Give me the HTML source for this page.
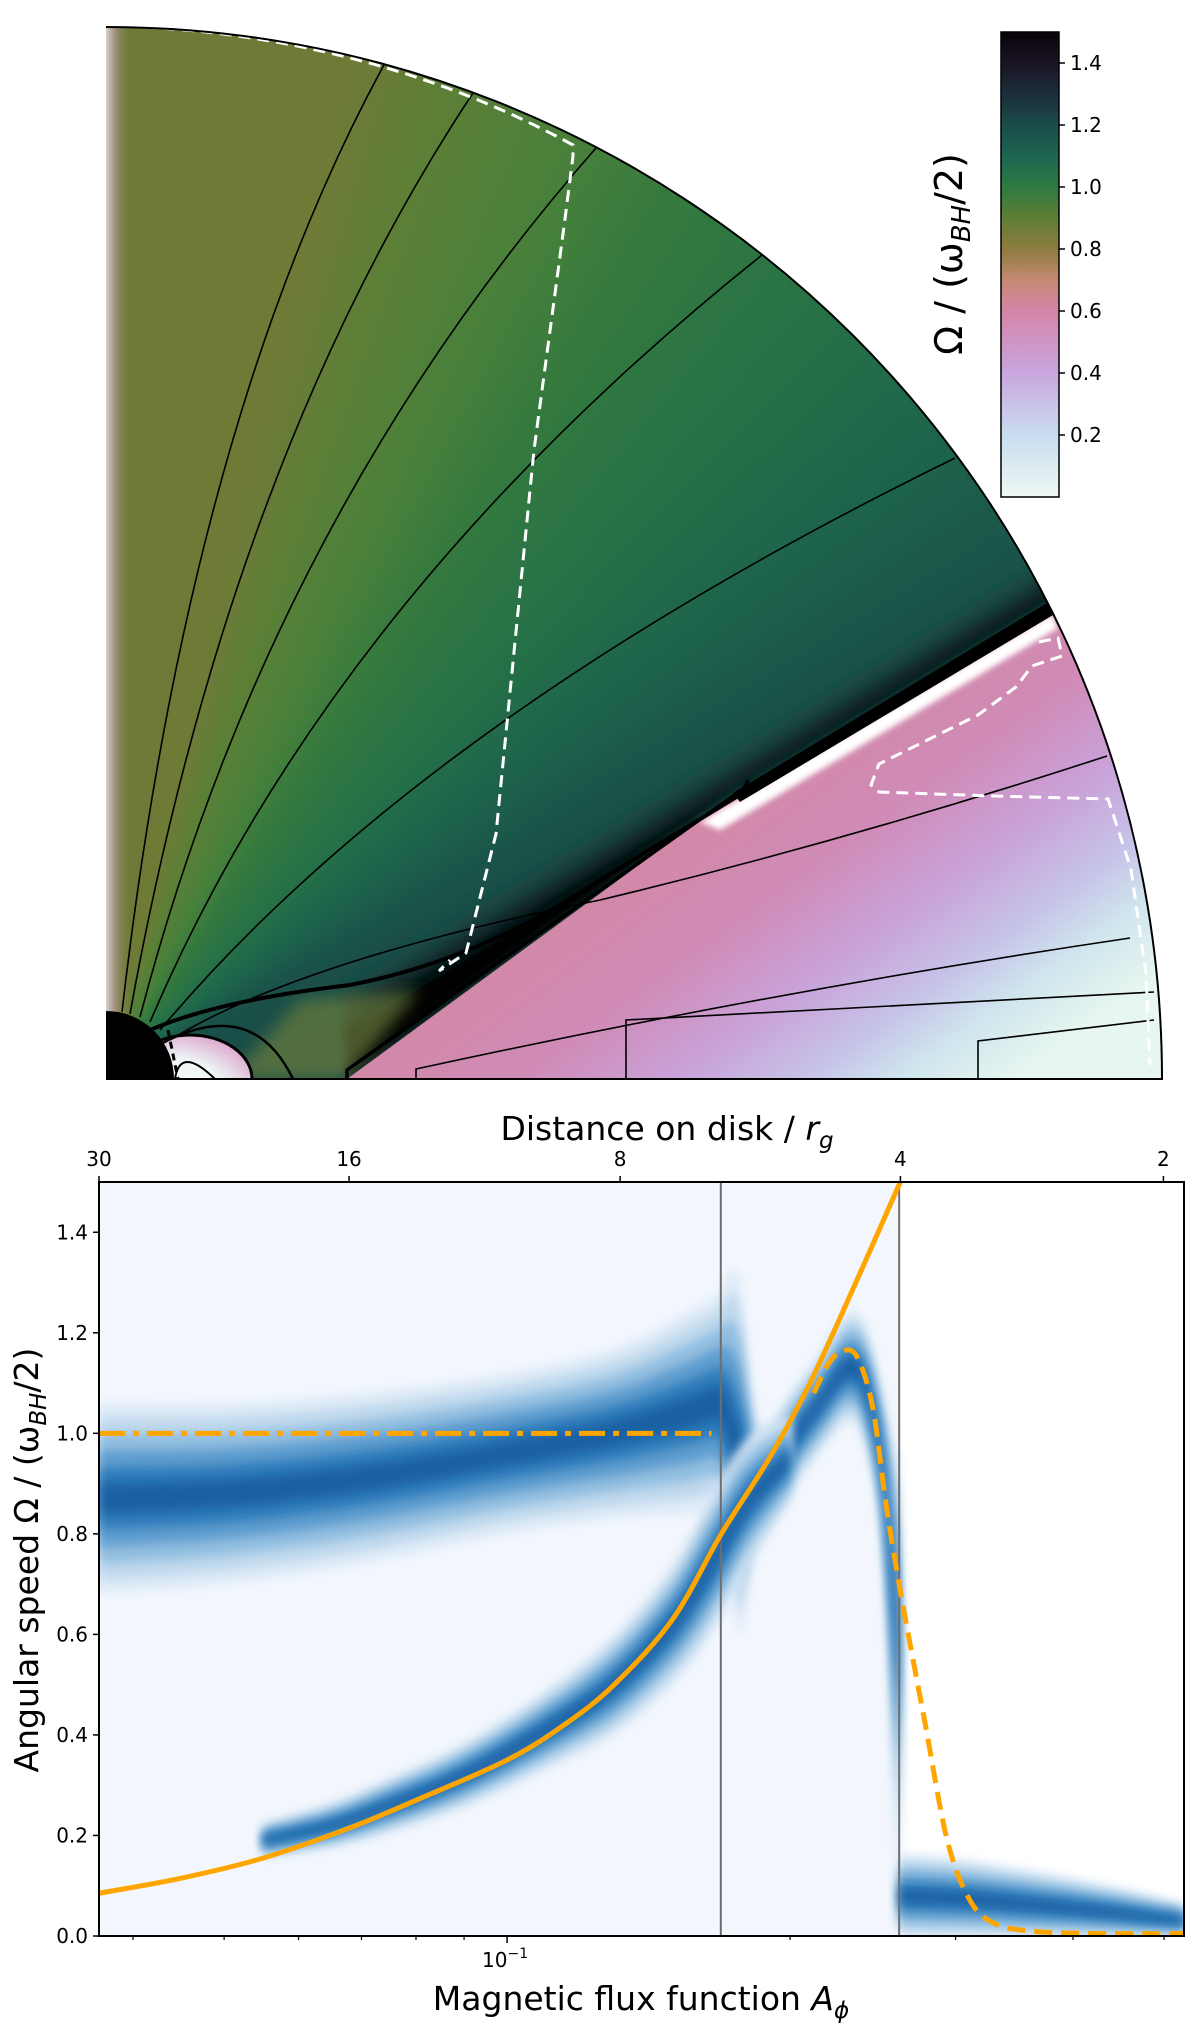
<!DOCTYPE html>
<html><head><meta charset="utf-8">
<style>
html,body{margin:0;padding:0;background:#fff;}
#wrap{position:relative;width:1200px;height:2034px;overflow:hidden;font-family:"DejaVu Sans","Liberation Sans",sans-serif;}
#conic{position:absolute;left:106px;top:27px;width:1056px;height:1052px;border-top-right-radius:1056px 1052px;
background:conic-gradient(from 0deg at 0% 100%,#6e7a38 0deg,#6d7b37 14deg,#5c7f36 19deg,#47803b 27deg,#32783f 34deg,#257047 44deg,#1d634c 53deg,#1a5449 60deg,#1a4f48 64deg,#1a4c47 90deg);}
svg{position:absolute;left:0;top:0;}
</style></head>
<body>
<div id="wrap">
<div id="conic"></div>
<svg id="svg" width="1200" height="2034" viewBox="0 0 1200 2034">
<defs>
<clipPath id="quad"><path d="M106,1079 L106,27 A1056,1052 0 0 1 1162,1079 Z"/></clipPath>
<clipPath id="plotclip"><rect x="99" y="1182" width="1085" height="754"/></clipPath>
<linearGradient id="diskg" gradientUnits="userSpaceOnUse" x1="700" y1="760" x2="960" y2="1120">
<stop offset="0" stop-color="#d3869f"/><stop offset="0.35" stop-color="#d08cb8"/><stop offset="0.55" stop-color="#c9a2d9"/>
<stop offset="0.72" stop-color="#c6c3e8"/><stop offset="0.85" stop-color="#d0e6ee"/><stop offset="1" stop-color="#e7f6ef"/></linearGradient>
<linearGradient id="noise" x1="0" x2="1" y1="0" y2="0"><stop offset="0" stop-color="#d8d0cc"/><stop offset="0.35" stop-color="#a0907a"/><stop offset="1" stop-color="#6e7a38" stop-opacity="0"/></linearGradient>
<linearGradient id="darkg" gradientUnits="userSpaceOnUse" x1="900" y1="700" x2="872" y2="654">
<stop offset="0" stop-color="#000"/><stop offset="0.35" stop-color="#0a1f22" stop-opacity="0.85"/><stop offset="1" stop-color="#1a4c47" stop-opacity="0"/></linearGradient>
<linearGradient id="cbar" x1="0" x2="0" y1="1" y2="0">
<stop offset="0" stop-color="#eef8f2"/><stop offset="0.133" stop-color="#c9ddf0"/><stop offset="0.266" stop-color="#c8a6de"/>
<stop offset="0.4" stop-color="#d585a8"/><stop offset="0.466" stop-color="#c58a72"/><stop offset="0.533" stop-color="#8d7c3f"/>
<stop offset="0.6" stop-color="#5e7e35"/><stop offset="0.666" stop-color="#2e7a42"/><stop offset="0.733" stop-color="#1d6550"/>
<stop offset="0.8" stop-color="#1a4c4a"/><stop offset="0.866" stop-color="#1c2e3a"/><stop offset="0.933" stop-color="#1a1424"/><stop offset="1" stop-color="#080408"/></linearGradient>
<radialGradient id="whiteg" cx="0.3" cy="0.8" r="0.9"><stop offset="0" stop-color="#ffffff"/><stop offset="0.6" stop-color="#eef6f6"/><stop offset="1" stop-color="#d9a0c8"/></radialGradient>
<filter id="blur3"><feGaussianBlur stdDeviation="3"/></filter>
<filter id="blur5"><feGaussianBlur stdDeviation="5"/></filter>
<filter id="blur8"><feGaussianBlur stdDeviation="8"/></filter>
</defs>

<g clip-path="url(#quad)">
  <rect x="106" y="27" width="26" height="1000" fill="url(#noise)"/>
  <polygon points="347,1079 733,793 1052,600 1200,560 1200,420 1000,540 700,730 500,850 340,960" fill="url(#darkg)" filter="url(#blur5)"/>
  <polygon points="230,1079 300,1000 420,990 347,1079" fill="#6a7d3c" opacity="0.7" filter="url(#blur8)"/>
  <polygon points="347,1079 733,796 1052,612 1200,600 1200,1079" fill="url(#diskg)"/>
  <polygon points="700,822 1052,614 1058,628 720,830" fill="#ffffff" filter="url(#blur3)"/>
  <polygon points="733,793 1052,600 1058,612 740,802" fill="#000"/>
  <ellipse cx="190" cy="1079" rx="62" ry="44" fill="url(#whiteg)" stroke="#000" stroke-width="3"/>
  <path d="M175,1079 Q180,1045 215,1079" fill="none" stroke="#000" stroke-width="2"/>
  <path d="M150,1050 Q250,990 293,1079" fill="none" stroke="#000" stroke-width="2.5"/>
  <path d="M168,1030 L178,1079" fill="none" stroke="#000" stroke-width="3" stroke-dasharray="7 5"/>
  <circle cx="106" cy="1079" r="68" fill="#000"/>
  <g fill="none" stroke="#000" stroke-width="1.6">
    <path d="M122,1012 Q190,420 385,63"/>
    <path d="M130,1014 Q230,460 473,93"/>
    <path d="M140,1017 Q270,520 596,148"/>
    <path d="M150,1022 Q330,600 762,255"/>
    <path d="M160,1030 Q420,720 955,458"/>
    <path d="M170,1040 Q300,960 600,900 Q850,840 1107,756"/>
    <path d="M416,1079 L416,1069 Q780,990 1130,938"/>
    <path d="M626,1079 L626,1020 L1154,992"/>
    <path d="M978,1079 L978,1041 L1154,1020"/>
  </g>
  <path d="M150,1030 Q220,1000 350,985 Q480,960 600,880 L738,796" fill="none" stroke="#000" stroke-width="4"/>
  <path d="M347,1079 L347,1070 L733,796 Q745,790 748,780" fill="none" stroke="#000" stroke-width="3.5"/>
  <path d="M144,27 Q380,40 573,145 L573,156 L565,219 L534,450 L496,834 L466,953 L439,971 L450,960" fill="none" stroke="#fff" stroke-width="3" stroke-dasharray="12 7"/>
  <path d="M1039,642 L1058,638 L1062,656 L1032,666 L1016,687 L978,715 L879,764 L871,785 L879,792 L993,796 L1108,799 L1115,820 L1131,869 L1146,974 L1150,1065" fill="none" stroke="#fff" stroke-width="3" stroke-dasharray="12 7"/>
</g>
<path d="M106,27 A1056,1052 0 0 1 1162,1079 L106,1079" fill="none" stroke="#000" stroke-width="2"/>

<g>
  <rect x="1001" y="32" width="58" height="465" fill="url(#cbar)" stroke="#000" stroke-width="1.5"/>
  <g id="cbticks" font-size="20" fill="#000"></g>
  <text transform="translate(962,254) rotate(-90)" text-anchor="middle" font-size="38">Ω / (ω<tspan font-style="italic" font-size="26" dy="8">BH</tspan><tspan dy="-8">/2)</tspan></text>
</g>

<g id="chart">
  <rect x="99" y="1182" width="800" height="754" fill="#f3f7fd"/>
  <g id="bands" clip-path="url(#plotclip)"></g>
  <g id="lines" clip-path="url(#plotclip)"></g>
  <rect x="99" y="1182" width="1085" height="754" fill="none" stroke="#000" stroke-width="2"/>
  <g id="axes" font-size="20" fill="#000"></g>
  <text x="667" y="1140" text-anchor="middle" font-size="33">Distance on disk / <tspan font-style="italic">r</tspan><tspan font-style="italic" font-size="23" dy="8">g</tspan></text>
  <text x="641" y="2010" text-anchor="middle" font-size="33">Magnetic flux function <tspan font-style="italic">A</tspan><tspan font-style="italic" font-size="23" dy="8">ϕ</tspan></text>
  <text transform="translate(38,1560) rotate(-90)" text-anchor="middle" font-size="33">Angular speed Ω / (ω<tspan font-style="italic" font-size="23" dy="8">BH</tspan><tspan dy="-8">/2)</tspan></text>
</g>
</svg>
</div>
<script>
const NS='http://www.w3.org/2000/svg';
// colorbar ticks
const cbTicks=[0.2,0.4,0.6,0.8,1.0,1.2,1.4];
// histogram bands (A, centre Omega, half-width)
const upperA=[0.0368,0.05,0.07,0.1,0.13,0.155,0.168,0.172,0.177,0.183,0.19,0.2,0.215,0.23,0.24,0.25,0.256,0.2613];
const upperC=[0.87,0.88,0.91,0.96,1.0,1.04,1.06,1.02,0.95,0.9,0.92,0.98,1.06,1.13,1.1,0.95,0.75,0.5];
const upperH=[0.19,0.18,0.17,0.16,0.17,0.2,0.22,0.3,0.35,0.15,0.1,0.1,0.1,0.11,0.12,0.14,0.25,0.45];
const lowerA=[0.055,0.065,0.075,0.09,0.11,0.13,0.15,0.165,0.18,0.2];
const lowerC=[0.19,0.22,0.26,0.32,0.41,0.5,0.62,0.74,0.86,0.95];
const lowerH=[0.035,0.045,0.055,0.065,0.08,0.1,0.12,0.14,0.13,0.09];
const rightA=[0.2613,0.3,0.35,0.4,0.45,0.525];
const rightC=[0.08,0.075,0.065,0.055,0.045,0.03];
const rightH=[0.085,0.08,0.07,0.06,0.05,0.035];
// model curves
const solidA=[0.0368,0.045,0.055,0.068,0.08,0.1,0.115,0.13,0.15,0.169,0.19,0.21,0.235,0.262];
const solidO=[0.085,0.115,0.155,0.215,0.27,0.35,0.42,0.5,0.63,0.80,0.95,1.1,1.3,1.5];
const dashA=[0.212,0.22,0.228,0.236,0.245,0.253,0.263,0.278,0.294,0.311,0.33,0.36,0.42,0.525];
const dashO=[1.08,1.14,1.165,1.15,1.05,0.86,0.67,0.43,0.19,0.07,0.025,0.01,0.005,0.005];
const dashdotA=[0.0368,0.165];
const dashdotO=[1.0,1.0];
const vlinesA=[0.1688,0.2613];
// ticks
const yTicks=[0.0,0.2,0.4,0.6,0.8,1.0,1.2,1.4];
const xMinor=[0.04,0.05,0.06,0.07,0.08,0.09,0.2,0.3,0.4,0.5];
const topTickA=[0.0368,0.0679,0.1319,0.2621,0.4992];
const topTickLabels=['30','16','8','4','2'];

const L0=Math.log10(0.0368),L1=Math.log10(0.525);
function xA(a){return 99+(Math.log10(a)-L0)/(L1-L0)*1085;}
function yO(o){return 1936-o/1.5*754;}
function cbY(v){return 32+(1.5-v)/1.5*465;}
function mk(tag,attrs,parent){const e=document.createElementNS(NS,tag);for(const k in attrs)e.setAttribute(k,attrs[k]);parent.appendChild(e);return e;}

const cbg=document.getElementById('cbticks');
cbTicks.forEach(v=>{
  const t=mk('line',{x1:1059,x2:1065,y1:cbY(v),y2:cbY(v),stroke:'#000','stroke-width':1.5},cbg);
  
  
  const tx=mk('text',{x:1070,y:cbY(v)+7},cbg);tx.textContent=v.toFixed(1);
  
  
});

function smooth(pts){
  let d='M'+pts[0][0]+','+pts[0][1];
  for(let i=0;i<pts.length-1;i++){
    const p0=pts[Math.max(0,i-1)],p1=pts[i],p2=pts[i+1],p3=pts[Math.min(pts.length-1,i+2)];
    const c1=[p1[0]+(p2[0]-p0[0])/6,p1[1]+(p2[1]-p0[1])/6],c2=[p2[0]-(p3[0]-p1[0])/6,p2[1]-(p3[1]-p1[1])/6];
    d+=' C'+c1[0]+','+c1[1]+' '+c2[0]+','+c2[1]+' '+p2[0]+','+p2[1];
  }
  return d;
}
const bg=document.getElementById('bands');
function band(A,C,H,name){
  const layers=[[1.0,'#dbe9f6',0.9],[0.85,'#b5d3ea',0.75],[0.68,'#7fb3da',0.7],[0.5,'#4a8fc8',0.7],[0.32,'#1f6fb2',0.7],[0.16,'#0a4f96',0.6]];
  layers.forEach(([f,col,op])=>{
    const top=A.map((a,i)=>[xA(a),yO(C[i]+H[i]*f)]);
    const bot=A.map((a,i)=>[xA(a),yO(C[i]-H[i]*f)]).reverse();
    const d=smooth(top)+' L'+smooth(bot).slice(1)+' Z';
    const p=mk('path',{d:d,fill:col,opacity:op,filter:'url(#blur5)'},bg);
    
    
  });
}
band(upperA,upperC,upperH,'upper-density-band');
band(lowerA,lowerC,lowerH,'lower-density-band');
band(rightA,rightC,rightH,'outer-disk-density-band');

const lg=document.getElementById('lines');
vlinesA.forEach(a=>{
  const l=mk('line',{x1:xA(a),x2:xA(a),y1:1182,y2:1936,stroke:'#6e6e6e','stroke-width':2},lg);
  
  
});
function curve(A,O,attrs,name){
  const pts=A.map((a,i)=>[xA(a),yO(O[i])]);
  const p=mk('path',Object.assign({d:smooth(pts),fill:'none',stroke:'#ffa500','stroke-width':5},attrs),lg);
  
  
}
curve(solidA,solidO,{},'corotation-curve');
curve(dashA,dashO,{'stroke-dasharray':'18 9'},'model-dashed-curve');
curve(dashdotA,dashdotO,{'stroke-dasharray':'26 8 6 8'},'half-bh-speed-line');

const ax=document.getElementById('axes');
yTicks.forEach(v=>{
  const t=mk('line',{x1:93,x2:99,y1:yO(v),y2:yO(v),stroke:'#000','stroke-width':1.5},ax);
  
  
  const tx=mk('text',{x:88,y:yO(v)+7,'text-anchor':'end'},ax);tx.textContent=v.toFixed(1);
  
  
});
xMinor.forEach(a=>{
  const t=mk('line',{x1:xA(a),x2:xA(a),y1:1936,y2:1940,stroke:'#000','stroke-width':1.2},ax);
  
  
});
{
  const t=mk('line',{x1:xA(0.1),x2:xA(0.1),y1:1936,y2:1943,stroke:'#000','stroke-width':1.5},ax);
  
  
  const tx=mk('text',{x:xA(0.1)-2,y:1967,'text-anchor':'middle'},ax);
  tx.innerHTML='10<tspan font-size="14" dy="-9">−1</tspan>';
  
  
}
topTickA.forEach((a,i)=>{
  const t=mk('line',{x1:xA(a),x2:xA(a),y1:1176,y2:1182,stroke:'#000','stroke-width':1.5},ax);
  
  
  const tx=mk('text',{x:xA(a),y:1166,'text-anchor':'middle'},ax);tx.textContent=topTickLabels[i];
  
  
});
</script>
</body></html>
